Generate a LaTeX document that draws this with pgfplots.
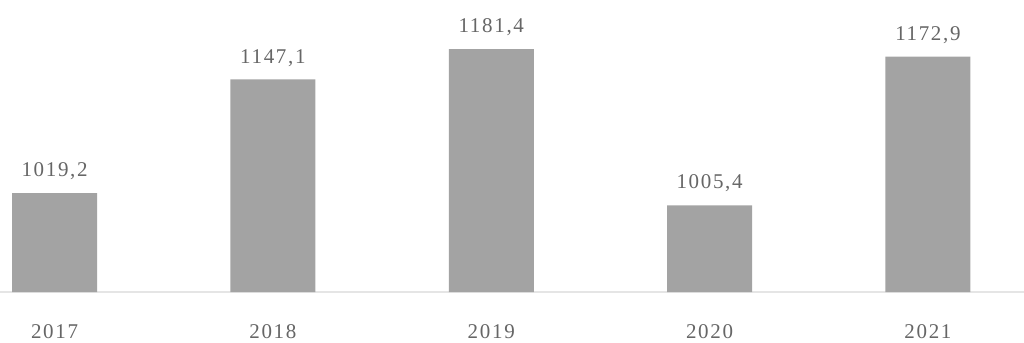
\documentclass[border=0pt]{standalone}
\usepackage{fontspec}
\setmainfont{Liberation Serif}
\newfontfamily\lbl[LetterSpace=8]{Liberation Serif}
\usepackage{pgfplots}
\pgfplotsset{compat=1.18}
\definecolor{barfill}{HTML}{A3A3A3}
\definecolor{txt}{HTML}{666666}
\begin{document}
\begin{tikzpicture}
\useasboundingbox (0,-25.5pt) rectangle (512pt,146pt);
\begin{axis}[
  scale only axis, width=512pt, height=146pt,
  xmin=-0.25, xmax=4.44, ymin=907.7, ymax=1236.6,
  hide y axis,
  axis x line*=bottom,
  x axis line style={draw=black!10, line width=0.6pt, -},
  xtick=data, xticklabels={2017,2018,2019,2020,2021},
  major tick length=0pt,
  xticklabel style={font=\lbl\fontsize{10.5}{12}\selectfont, text=txt, yshift=-12.5pt},
  ybar, bar width=42.5pt,
  nodes near coords,
  every node near coord/.append style={font=\lbl\fontsize{10.5}{12}\selectfont, text=txt, yshift=3pt},
  /pgf/number format/.cd, fixed, fixed zerofill, precision=1, use comma, 1000 sep={}, assume math mode=true,
]
\addplot[draw=none, fill=barfill] coordinates {(0,1019.2) (1,1147.1) (2,1181.4) (3,1005.4) (4,1172.9)};
\end{axis}
\end{tikzpicture}
\end{document}
